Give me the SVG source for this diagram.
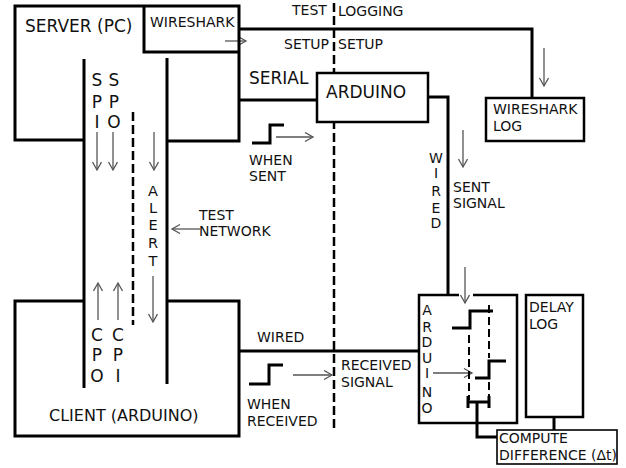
<svg xmlns="http://www.w3.org/2000/svg" width="626" height="468" viewBox="0 0 626 468">
<defs>
<style>
text{font-family:"DejaVu Sans","Liberation Sans",sans-serif;fill:#111;}
.t14{font-size:14px;}
.t17{font-size:17px;}
.t16{font-size:16px;}
.ta{font-size:14.5px;}
.v{text-anchor:middle;}
.thick{fill:none;stroke:#000;stroke-width:3;}
.box{fill:#fff;stroke:#000;stroke-width:2.5;}
.arr{fill:none;stroke:#555;stroke-width:1.3;marker-end:url(#ah);}
.dash{fill:none;stroke:#000;stroke-width:2.5;stroke-dasharray:9 4;}
.dash2{fill:none;stroke:#000;stroke-width:2;stroke-dasharray:8 4;}
</style>
<marker id="ah" markerUnits="userSpaceOnUse" markerWidth="12" markerHeight="12" refX="9" refY="5" orient="auto">
<path d="M1,0.5 L9,5 L1,9.5" fill="none" stroke="#555" stroke-width="1.3"/>
</marker>
</defs>
<rect width="626" height="468" fill="#fff"/>

<g id="connectors">
<line class="dash" x1="334" y1="3" x2="334" y2="428"/>
<path class="thick" d="M239,29 H532 V98"/>
<path class="thick" d="M239,100 H317"/>
<path class="thick" d="M428,97 H448 V295"/>
<path class="thick" d="M239,351 H419"/>
<path class="thick" d="M477,402 V437 H497"/>
<path class="thick" d="M554,417 V430"/>
<line class="dash" x1="133" y1="112" x2="133" y2="325"/>
<line class="arr" x1="225" y1="41" x2="246" y2="41"/>
<line class="arr" x1="544" y1="48" x2="544" y2="86"/>
<line class="arr" x1="463" y1="130" x2="463" y2="167"/>
<line class="arr" x1="465" y1="267" x2="465" y2="303"/>
<line class="arr" x1="276" y1="137" x2="313" y2="137"/>
<line class="arr" x1="293" y1="375" x2="332" y2="375"/>
<line class="arr" x1="200" y1="229" x2="172" y2="229"/>
<line class="arr" x1="97" y1="132" x2="97" y2="170"/>
<line class="arr" x1="113" y1="132" x2="113" y2="170"/>
<line class="arr" x1="154" y1="132" x2="154" y2="170"/>
<line class="arr" x1="153" y1="276" x2="153" y2="322"/>
<line class="arr" x1="98" y1="320" x2="98" y2="283"/>
<line class="arr" x1="118" y1="320" x2="118" y2="283"/>
<line class="arr" x1="433" y1="373" x2="472" y2="373"/>
</g>

<g id="server">
<path class="thick" d="M84,140 H15 V6 H239 V141 H167"/>
<line class="thick" x1="84" y1="59" x2="84" y2="388"/>
<line class="thick" x1="167" y1="58" x2="167" y2="384"/>
<text class="t17" x="25" y="32">SERVER (PC)</text>
</g>

<g id="wireshark">
<path class="thick" d="M144,6 V52 H239"/>
<text class="t14" x="150" y="27">WIRESHARK</text>
</g>

<g id="client">
<path class="thick" d="M84,301 H15 V436 H239 V301 H167"/>
<text class="t16" x="49" y="421">CLIENT (ARDUINO)</text>
</g>

<g id="arduino-top">
<rect class="box" x="317" y="73" width="111" height="49"/>
<text class="t17" x="326" y="98">ARDUINO</text>
</g>

<g id="wireshark-log">
<rect class="box" x="486" y="98" width="98" height="43"/>
<text class="t14" x="493" y="114">WIRESHARK</text>
<text class="t14" x="493" y="131">LOG</text>
</g>

<g id="arduino-bottom">
<path class="box" d="M459,295 H419 V423 H517 V295 H473" style="fill:none"/>
<text class="t14 v" x="427" y="315">A</text>
<text class="t14 v" x="427" y="332">R</text>
<text class="t14 v" x="427" y="347">D</text>
<text class="t14 v" x="427" y="363">U</text>
<text class="t14 v" x="427" y="378">I</text>
<text class="t14 v" x="427" y="397">N</text>
<text class="t14 v" x="427" y="413">O</text>
<path class="thick" d="M452,328 H470 V311 H493"/>
<line class="dash2" x1="469" y1="335" x2="469" y2="400"/>
<line class="dash2" x1="489" y1="305" x2="489" y2="358"/>
<path class="thick" d="M506,361 H489 V378 H475"/>
<line class="dash2" x1="489" y1="382" x2="489" y2="396"/>
<path class="thick" d="M468,402 H489 M468,396 V408 M489,396 V408"/>
</g>

<g id="delay-log">
<rect class="box" x="526" y="295" width="57" height="122"/>
<text class="t14" x="529" y="312">DELAY</text>
<text class="t14" x="529" y="329">LOG</text>
</g>

<g id="compute">
<rect x="497" y="430" width="120" height="34" fill="#fff" stroke="#000" stroke-width="1.6"/>
<text class="t14" x="499" y="443">COMPUTE</text>
<text class="t14" x="499" y="460">DIFFERENCE (Δt)</text>
</g>

<g id="labels">
<text class="t14" x="292" y="15">TEST</text>
<text class="t14" x="338" y="16">LOGGING</text>
<text class="t14" x="284" y="49">SETUP</text>
<text class="t14" x="338" y="49">SETUP</text>
<text class="t17" x="249" y="84">SERIAL</text>
<path class="thick" d="M252,143 H270 V125 H284"/>
<text class="t14" x="249" y="165">WHEN</text>
<text class="t14" x="249" y="181">SENT</text>
<text class="t14" x="453" y="192">SENT</text>
<text class="t14" x="453" y="208">SIGNAL</text>
<text class="t14 v" x="436" y="163">W</text>
<text class="t14 v" x="436" y="178">I</text>
<text class="t14 v" x="436" y="196">R</text>
<text class="t14 v" x="436" y="213">E</text>
<text class="t14 v" x="436" y="228">D</text>
<text class="t14" x="199" y="220">TEST</text>
<text class="t14" x="199" y="236">NETWORK</text>
<text class="t17 v" x="97" y="86">S</text>
<text class="t17 v" x="97" y="108">P</text>
<text class="t17 v" x="97" y="128">I</text>
<text class="t17 v" x="114" y="86">S</text>
<text class="t17 v" x="114" y="108">P</text>
<text class="t17 v" x="114" y="128">O</text>
<text class="ta v" x="153" y="196">A</text>
<text class="ta v" x="153" y="213">L</text>
<text class="ta v" x="153" y="230">E</text>
<text class="ta v" x="153" y="248">R</text>
<text class="ta v" x="153" y="266">T</text>
<text class="t17 v" x="97" y="341">C</text>
<text class="t17 v" x="97" y="361">P</text>
<text class="t17 v" x="97" y="382">O</text>
<text class="t17 v" x="118" y="341">C</text>
<text class="t17 v" x="118" y="361">P</text>
<text class="t17 v" x="118" y="382">I</text>
<text class="t14" x="257" y="342">WIRED</text>
<path class="thick" d="M249,384 H269 V365 H283"/>
<text class="t14" x="247" y="409">WHEN</text>
<text class="t14" x="247" y="426">RECEIVED</text>
<text class="t14" x="341" y="370">RECEIVED</text>
<text class="t14" x="341" y="387">SIGNAL</text>
</g>
</svg>
